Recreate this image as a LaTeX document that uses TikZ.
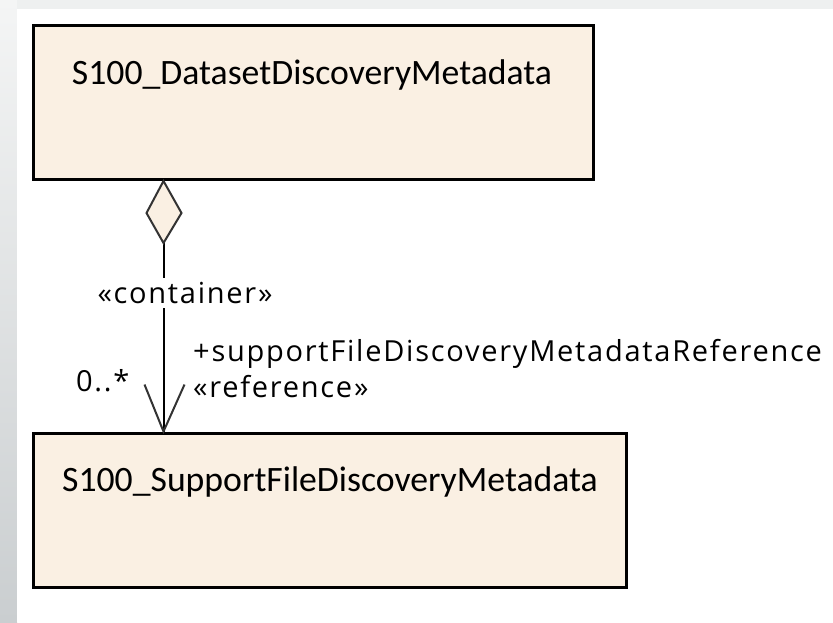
\documentclass[tikz,border=0pt]{standalone}
\usepackage{fontspec}
\setmainfont{Carlito}
\newfontfamily\labelfont[LetterSpace=6]{Open Sans}
\usetikzlibrary{positioning}
\definecolor{classfill}{RGB}{250,240,227}
\definecolor{framegray}{RGB}{238,240,240}
\definecolor{edgetop}{RGB}{244,245,245}
\definecolor{edgebottom}{RGB}{202,206,208}
\tikzset{
  classbox/.style={draw=black, line width=3pt, fill=classfill, inner sep=0pt},
  classname/.style={font=\fontsize{35.7}{38}\selectfont, inner sep=0pt, anchor=center},
  rolelabel/.style={font=\labelfont\fontsize{29}{31}\selectfont, inner sep=0pt},
  link/.style={draw=black, line width=2pt},
  tipline/.style={draw=black!80, line width=2pt, line join=miter},
}
\begin{document}
\begin{tikzpicture}[x=1pt, y=-1pt]
  \useasboundingbox (0,0) rectangle (833,622);
  % window frame: light strip on top, graded strip on the left
  \fill[framegray] (0,0) rectangle (833,9);
  \shade[top color=edgetop, bottom color=edgebottom] (0,0) rectangle (17,622);
  \fill[white] (17,9) rectangle (833,622);

  % classes
  \node[classbox, minimum width=560pt, minimum height=154pt] (ds) at (313,102.5) {};
  \node[classname] (dsname) at (312,75) {S100\_DatasetDiscoveryMetadata};
  \node[classbox, minimum width=593pt, minimum height=154pt] (sf) at (329.5,510) {};
  \node[classname] (sfname) at (330,482) {S100\_SupportFileDiscoveryMetadata};

  % association ends
  \coordinate (src) at ([xshift=132pt]ds.south west);
  \coordinate (dst) at ([xshift=132pt]sf.north west);
  \coordinate (dtip) at ([yshift=-62pt]src);

  % association line with the stereotype of the owning end
  \draw[link] (dtip) -- (dst);
  \node[rolelabel, fill=white, inner ysep=4pt] (cont) at (185,293) {«container»};

  % aggregation diamond at the owner
  \draw[tipline, fill=classfill] (src) -- ++(18,32) -- (dtip) -- ++(-17,-30) -- cycle;

  % navigability arrow at the referenced class
  \draw[tipline, line width=2pt] ([shift={(-19,-47)}]dst) -- (dst) -- ([shift={(21,-47)}]dst);

  % role and multiplicity
  \node[rolelabel, anchor=west] (role) at (193,354) {+supportFileDiscoveryMetadataReference};
  \node[rolelabel, anchor=west] (ster) at (193,387) {«reference»};
  \node[rolelabel, anchor=west] (mult) at (76,381) {0..*};
\end{tikzpicture}
\end{document}
